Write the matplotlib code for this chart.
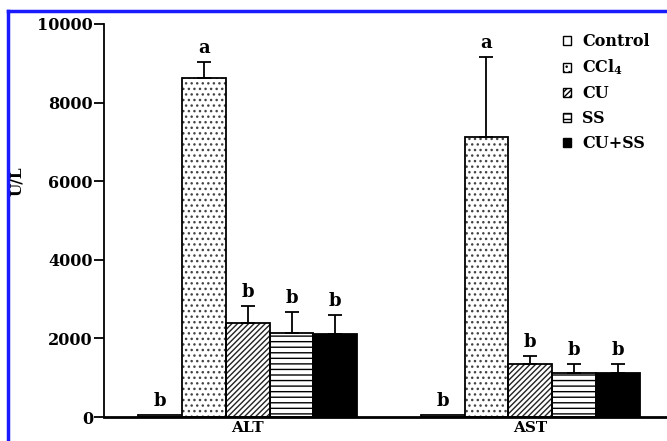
import matplotlib
matplotlib.use("Agg")
import matplotlib.pyplot as plt
import numpy as np
from matplotlib.patches import Patch
from matplotlib.lines import Line2D

FONT = ['DejaVu Serif']
plt.rcParams['font.family'] = FONT
plt.rcParams['font.weight'] = 'bold'
plt.rcParams['mathtext.fontset'] = 'custom'
plt.rcParams['mathtext.rm'] = 'DejaVu Serif:bold'
plt.rcParams['mathtext.it'] = 'DejaVu Serif:bold'
plt.rcParams['mathtext.bf'] = 'DejaVu Serif:bold'
plt.rcParams['hatch.linewidth'] = 1.0

categories = ['ALT', 'AST']
groups = ['Control', 'CCl$_4$', 'CU', 'SS', 'CU+SS']
keys = ['Control', 'CCl4', 'CU', 'SS', 'CU+SS']
values = {
    'Control': [50, 60],
    'CCl4': [8620, 7120],
    'CU': [2390, 1350],
    'SS': [2140, 1120],
    'CU+SS': [2110, 1120],
}
errors = {
    'Control': [0, 0],
    'CCl4': [420, 2030],
    'CU': [440, 200],
    'SS': [520, 220],
    'CU+SS': [480, 220],
}
letters = {
    'Control': ['b', 'b'],
    'CCl4': ['a', 'a'],
    'CU': ['b', 'b'],
    'SS': ['b', 'b'],
    'CU+SS': ['b', 'b'],
}
styles = {
    'Control': dict(facecolor='white', hatch=None, hc='black'),
    'CCl4': dict(facecolor='white', hatch='...', hc='#444444'),
    'CU': dict(facecolor='white', hatch='//////', hc='#222222'),
    'SS': dict(facecolor='white', hatch='---', hc='black'),
    'CU+SS': dict(facecolor='black', hatch=None, hc='black'),
}

fig = plt.figure(figsize=(6.67, 4.41), dpi=100)
ax = fig.add_axes([104/667, 1 - 417/441, 1 - 104/667, (417 - 24)/441])

x = np.arange(len(categories))
w = 0.155
for i, k in enumerate(keys):
    xs = x + (i - 2) * w
    st = styles[k]
    if st['hatch']:
        ax.bar(xs, values[k], width=w, facecolor=st['facecolor'], hatch=st['hatch'],
               edgecolor=st['hc'], linewidth=0, zorder=2)
        ax.bar(xs, values[k], width=w, facecolor='none',
               edgecolor='black', linewidth=1.3, zorder=2.1)
    else:
        ax.bar(xs, values[k], width=w, facecolor=st['facecolor'],
               edgecolor='black', linewidth=1.3, zorder=2)
    if any(e > 0 for e in errors[k]):
        ax.errorbar(xs, values[k], yerr=[np.zeros(2), errors[k]], fmt='none',
                    ecolor='black', elinewidth=1.3, capsize=5, capthick=1.3, zorder=3)
    for j in range(len(categories)):
        top = values[k][j] + errors[k][j]
        ax.text(xs[j], top + 130, letters[k][j], ha='center', va='bottom',
                fontsize=13, fontweight='bold')

ax.set_xlim(-0.509, 1.484)
ax.set_ylim(0, 10000)
ax.set_yticks([0, 2000, 4000, 6000, 8000, 10000])
ax.set_xticks(x)
ax.set_xticklabels(categories, fontsize=11, fontweight='bold')
ax.tick_params(axis='x', length=0, pad=3)
ax.tick_params(axis='y', direction='out', length=7, width=1.3, labelsize=11.5, pad=1)
for lab in ax.get_yticklabels():
    lab.set_fontweight('bold')
ax.spines['top'].set_visible(False)
ax.spines['right'].set_visible(False)
ax.spines['left'].set_linewidth(1.3)
ax.spines['bottom'].set_linewidth(2.0)
ax.set_ylabel('U/L', fontsize=11, fontweight='bold')
ax.yaxis.set_label_coords(-0.142, 0.6)

handles = [Patch(facecolor=styles[k]['facecolor'], hatch=styles[k]['hatch'],
                 edgecolor='black', linewidth=1.0) for k in keys]
leg = ax.legend(handles, groups, loc='upper left', bbox_to_anchor=(558/667, 1 - 28/441),
                bbox_transform=fig.transFigure,
                frameon=False, fontsize=11.5, handlelength=0.5, handleheight=0.5,
                handletextpad=0.7, labelspacing=0.5, borderaxespad=0.0, borderpad=0.3)
for t in leg.get_texts():
    t.set_fontweight('bold')

# blue frame border (left & top)
fig.add_artist(Line2D([8/667, 8/667], [0, 1 - 11/441], color='#1a1aff', linewidth=2.5,
                      transform=fig.transFigure))
fig.add_artist(Line2D([8/667, 1], [1 - 11/441, 1 - 11/441], color='#1a1aff', linewidth=2.5,
                      transform=fig.transFigure))

fig.savefig('out.png', dpi=100)
